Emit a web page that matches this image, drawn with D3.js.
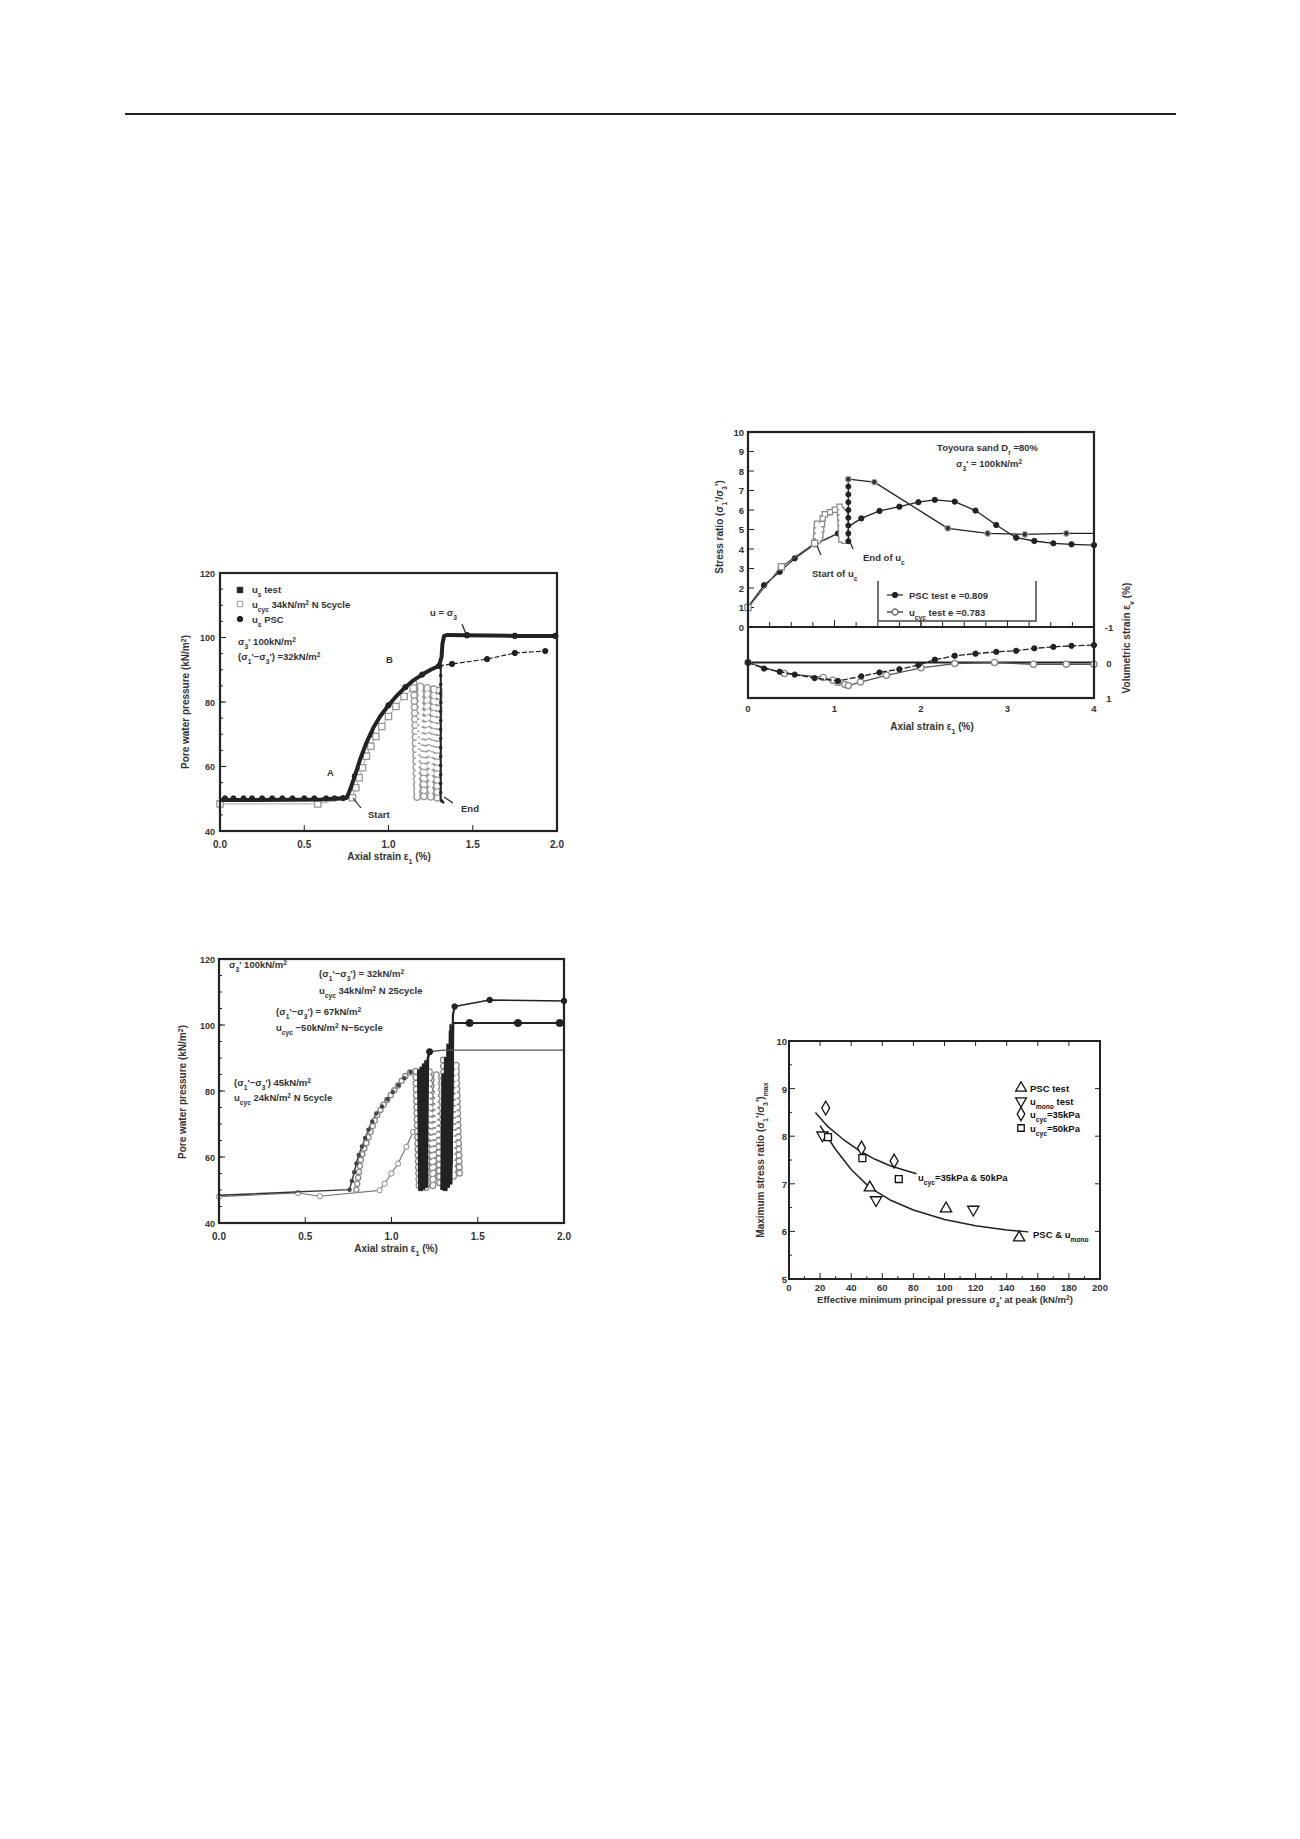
<!DOCTYPE html>
<html><head><meta charset="utf-8">
<script src="https://cdn.jsdelivr.net/npm/d3@7"></script>
<style>body{margin:0;background:#fff}text{font-family:"Liberation Sans",Arial,sans-serif}</style>
</head><body>
<svg id="page" width="1300" height="1839"></svg>
<script>
// ================= DATA =================
// Chart 1 (pore water pressure vs axial strain, one cyclic test)
const c1XTicks = [0, 0.5, 1, 1.5, 2];
const c1XLabels = ["0.0", "0.5", "1.0", "1.5", "2.0"];
const c1YTicks = [40, 60, 80, 100, 120];
const c1YLabels = ["40", "60", "80", "100", "120"];
const c1TestStrain = [0, 0.2, 0.4, 0.6, 0.75, 0.77, 0.80, 0.83, 0.87, 0.91, 0.95, 1.00, 1.05, 1.10, 1.15, 1.20, 1.25, 1.30, 1.315, 1.32, 1.33, 1.35, 1.466, 1.75, 2.0];
const c1TestU = [49.6, 49.6, 49.7, 49.8, 50.2, 52.5, 57, 62, 67.5, 72, 75.5, 79, 82, 84.6, 86.8, 88.5, 90, 91.2, 94, 98, 100.5, 100.8, 100.7, 100.5, 100.5];
const c1TestDotStrain = [1.466, 1.75, 1.99];
const c1TestDotU = [100.7, 100.5, 100.5];
const c1DropStrain = [1.31, 1.31, 1.33];
const c1DropU = [91, 49.6, 48.6];
const c1CycStrain = [0, 0.58, 0.786, 0.806, 0.826, 0.846, 0.869, 0.895, 0.925, 0.96, 1.0, 1.044, 1.093, 1.147];
const c1CycU = [48.4, 48.4, 50.3, 53.4, 56.5, 59.6, 63.2, 66.3, 69.3, 72.4, 75.5, 78.6, 81.7, 84.3];
const c1LoopStrain = [1.15, 1.17, 1.19, 1.21, 1.23, 1.25, 1.27, 1.29, 1.30];
const c1LoopU = [85.8, 50.0, 85.5, 49.8, 85.2, 49.8, 84.8, 50.2, 84.5];
const c1PscStrain = [0.03, 0.08, 0.14, 0.19, 0.25, 0.31, 0.37, 0.43, 0.50, 0.56, 0.63, 0.68, 0.73, 0.80, 0.90, 1.0, 1.1, 1.2, 1.3, 1.377, 1.585, 1.75, 1.93];
const c1PscU = [50.1, 50.1, 50.1, 50.1, 50.1, 50.1, 50.1, 50.1, 50.1, 50.1, 50.1, 50.1, 50.2, 57, 70, 79, 84.6, 88.5, 91.2, 91.8, 93.3, 95.2, 95.8];

// Chart 2 (three cyclic tests)
const c2XTicks = [0, 0.5, 1, 1.5, 2];
const c2XLabels = ["0.0", "0.5", "1.0", "1.5", "2.0"];
const c2YTicks = [40, 60, 80, 100, 120];
const c2YLabels = ["40", "60", "80", "100", "120"];
const c2AStrain = [0, 0.757, 0.777, 0.806, 0.835, 0.873, 0.912, 0.96, 1.009, 1.057, 1.105, 1.134];
const c2AU = [48.4, 50.1, 54, 60, 64.1, 69.2, 73.2, 76.3, 79.8, 82.8, 85.6, 86.4];
const c2BStrain = [0.796, 0.825, 0.87, 0.912, 0.95, 0.989, 1.04, 1.086, 1.13];
const c2BU = [50.1, 60, 66.5, 72.2, 75.5, 78.3, 81.8, 84.9, 86.4];
const c2CStrain = [0, 0.458, 0.584, 0.931, 0.96, 0.999, 1.038, 1.086, 1.125];
const c2CU = [48.0, 49.1, 48.1, 49.9, 51.9, 55, 58, 63.1, 67.6];
const c2G1Strain = [1.14, 1.16, 1.18, 1.20, 1.22, 1.24, 1.26, 1.28];
const c2G1U = [86, 50.5, 86.5, 50.3, 86, 50.5, 85.5, 51];
const c2G2Strain = [1.30, 1.32, 1.34, 1.36, 1.375, 1.395];
const c2G2U = [89.4, 53, 89, 53.5, 88.5, 54];
const c2K1Strain = [1.155, 1.162, 1.169, 1.176, 1.183, 1.19, 1.197, 1.204, 1.211, 1.221];
const c2K1U = [86.5, 50, 87, 50, 88, 50.5, 89, 51, 90, 91.9];
const c2K2Strain = [1.29, 1.297, 1.304, 1.311, 1.318, 1.325, 1.332, 1.339, 1.346, 1.357];
const c2K2U = [50, 85, 50, 90, 50, 94, 51, 98, 52, 100.6];
const c2K3Strain = [1.335, 1.342, 1.349, 1.356, 1.366];
const c2K3U = [55, 100, 58, 103, 105.6];
const c2P1Strain = [1.221, 1.30, 2.0];
const c2P1U = [91.9, 92.4, 92.4];
const c2P2Strain = [1.357, 1.453, 1.733, 1.975, 2.0];
const c2P2U = [100.6, 100.6, 100.6, 100.6, 100.6];
const c2P3Strain = [1.366, 1.569, 2.0];
const c2P3U = [105.6, 107.6, 107.3];

// Chart 3 (stress ratio and volumetric strain vs axial strain)
const c3XTicks = [0, 1, 2, 3, 4];
const c3SRTicks = [0, 1, 2, 3, 4, 5, 6, 7, 8, 9, 10];
const c3VTicks = [-1, 0, 1];
const c3PscStrain = [0, 0.185, 0.366, 0.54, 0.77, 1.04, 1.31, 1.52, 1.75, 1.97, 2.16, 2.39, 2.63, 2.87, 3.1, 3.31, 3.53, 3.74, 4.0];
const c3PscRatio = [1.03, 2.14, 2.83, 3.52, 4.24, 4.8, 5.57, 5.95, 6.17, 6.4, 6.52, 6.43, 5.97, 5.23, 4.58, 4.41, 4.29, 4.24, 4.2];
const c3PscVol = [0, 0.17, 0.26, 0.34, 0.44, 0.52, 0.39, 0.28, 0.19, 0.07, -0.08, -0.19, -0.25, -0.30, -0.33, -0.40, -0.44, -0.47, -0.49];
const c3CycStrain = [0, 0.385, 0.77, 0.78, 0.80, 0.81, 0.82, 0.83, 0.87, 0.98, 1.06, 1.08, 1.08, 1.10, 1.10, 1.12, 1.12, 1.14];
const c3CycRatio = [1.0, 3.09, 4.29, 4.2, 5.4, 4.4, 5.3, 4.5, 5.75, 5.95, 6.17, 4.4, 6.1, 4.35, 6.0, 4.3, 5.9, 4.3];
const c3PostStrain = [1.16, 1.16, 1.46, 2.31, 2.77, 3.2, 3.68, 4.0];
const c3PostRatio = [4.3, 7.58, 7.43, 5.06, 4.8, 4.75, 4.8, 4.8];
const c3PostMarkStrain = [1.16, 1.46, 2.31, 2.77, 3.2, 3.68];
const c3PostMarkRatio = [7.58, 7.43, 5.06, 4.8, 4.75, 4.8];
const c3EndColStrain = [1.16, 1.16, 1.16, 1.16, 1.16, 1.16, 1.16, 1.16, 1.16];
const c3EndColRatio = [4.4, 4.8, 5.2, 5.6, 6.0, 6.4, 6.8, 7.2, 7.58];
const c3CycVolStrain = [0, 0.42, 0.87, 0.98, 1.04, 1.12, 1.16, 1.3, 1.6, 2.0, 2.39, 2.85, 3.3, 3.68, 4.0];
const c3CycVol = [0, 0.31, 0.42, 0.50, 0.56, 0.62, 0.65, 0.55, 0.36, 0.15, 0.03, 0.0, 0.05, 0.05, 0.05];

// Chart 4 (maximum stress ratio vs sigma3' at peak)
const c4XTicks = [0, 20, 40, 60, 80, 100, 120, 140, 160, 180, 200];
const c4YTicks = [5, 6, 7, 8, 9, 10];
const c4PscX = [52, 101, 148];
const c4PscY = [6.92, 6.48, 5.87];
const c4MonoX = [21.5, 56, 118.5];
const c4MonoY = [8.02, 6.66, 6.46];
const c4C35X = [23.6, 46.6, 67.6];
const c4C35Y = [8.59, 7.75, 7.48];
const c4C50X = [25.1, 47.2, 70.6];
const c4C50Y = [7.98, 7.54, 7.10];
const c4UpperX = [17, 25, 35, 45, 55, 65, 75, 82];
const c4UpperY = [8.5, 8.2, 7.93, 7.7, 7.52, 7.38, 7.28, 7.21];
const c4LowerX = [20, 30, 40, 52, 65, 80, 100, 120, 140, 154];
const c4LowerY = [8.22, 7.72, 7.3, 6.92, 6.66, 6.45, 6.25, 6.12, 6.03, 5.99];

// ================= DRAWING =================
const svg = d3.select("#page");
const INK = "#222", TXT = "#333";

function addText(x, y, parts, o = {}) {
  const size = o.size || 10;
  const t = svg.append("text").attr("x", x).attr("y", y)
    .attr("font-size", size).attr("font-weight", o.weight || "bold")
    .attr("fill", o.fill || TXT).attr("text-anchor", o.anchor || "start");
  if (o.rotate !== undefined) t.attr("transform", `rotate(${o.rotate},${x},${y})`);
  (Array.isArray(parts) ? parts : [parts]).forEach(p => {
    if (typeof p === "string") t.append("tspan").text(p);
    else t.append("tspan").attr("baseline-shift", p.sup ? "super" : "sub")
      .attr("font-size", size * 0.7).text(p.t);
  });
  return t;
}
function drawLine(x, y, xs, ys, o = {}) {
  svg.append("path").attr("d", d3.line().x(d => x(d[0])).y(d => y(d[1]))(d3.zip(xs, ys)))
    .attr("fill", "none").attr("stroke", o.stroke || INK).attr("stroke-width", o.w || 1.5)
    .attr("stroke-dasharray", o.dash || null).attr("stroke-linejoin", "round");
}
function drawMarks(x, y, xs, ys, type, o = {}) {
  const sym = d3.symbol().type(type).size(o.size || 30);
  svg.append("g").selectAll("path").data(d3.zip(xs, ys)).join("path")
    .attr("transform", d => `translate(${x(d[0])},${y(d[1])})${o.flip ? " rotate(180)" : ""}`)
    .attr("d", sym).attr("fill", o.fill || INK).attr("stroke", o.stroke || INK)
    .attr("stroke-width", o.w || 1);
}
// chain of markers along a path (line style with zero-length dashes)
function beads(x, y, xs, ys, o = {}) {
  const d = d3.line().x(p => x(p[0])).y(p => y(p[1]))(d3.zip(xs, ys));
  const size = o.size || 7, gap = o.gap || 6, cap = o.cap || "round";
  svg.append("path").attr("d", d).attr("fill", "none").attr("stroke", o.color || "#999")
    .attr("stroke-width", size).attr("stroke-linecap", cap).attr("stroke-dasharray", `0 ${gap}`);
  if (o.hollow !== false)
    svg.append("path").attr("d", d).attr("fill", "none").attr("stroke", "#fff")
      .attr("stroke-width", size - 2.6).attr("stroke-linecap", cap).attr("stroke-dasharray", `0 ${gap}`);
}
function frame(x, y, w = 2) {
  const [x0, x1] = x.range(), [y1, y0] = y.range();
  svg.append("rect").attr("x", x0).attr("y", y0).attr("width", x1 - x0).attr("height", y1 - y0)
    .attr("fill", "none").attr("stroke", INK).attr("stroke-width", w);
}
function tickMarks(x, y, vals, side, len, w = 1) {
  const [x0, x1] = x.range(), [yb, yt] = y.range();
  vals.forEach(v => {
    let a;
    if (side === "bottom") a = [x(v), yb, x(v), yb - len];
    if (side === "top") a = [x(v), yt, x(v), yt + len];
    if (side === "left") a = [x0, y(v), x0 + len, y(v)];
    if (side === "right") a = [x1, y(v), x1 - len, y(v)];
    svg.append("line").attr("x1", a[0]).attr("y1", a[1]).attr("x2", a[2]).attr("y2", a[3])
      .attr("stroke", INK).attr("stroke-width", w);
  });
}
function seg(x1, y1, x2, y2, w = 1.2) {
  svg.append("line").attr("x1", x1).attr("y1", y1).attr("x2", x2).attr("y2", y2)
    .attr("stroke", INK).attr("stroke-width", w);
}

// page rule
seg(125, 114, 1176, 114, 2.2);

// ---------- Chart 1 ----------
{
  const x = d3.scaleLinear().domain([0, 2]).range([220, 557]);
  const y = d3.scaleLinear().domain([40, 120]).range([831, 573]);
  tickMarks(x, y, d3.range(45, 120, 5), "left", 3);
  tickMarks(x, y, c1YTicks, "left", 6);
  tickMarks(x, y, c1XTicks, "bottom", 6);
  c1XTicks.forEach((v, i) => addText(x(v), 848, c1XLabels[i], {anchor: "middle"}));
  c1YTicks.forEach((v, i) => addText(215, y(v) + 3.5, c1YLabels[i], {anchor: "end", size: 9}));
  addText(389, 860, ["Axial strain ε", {t: "1"}, " (%)"], {anchor: "middle"});
  addText(189, 702, ["Pore water pressure (kN/m", {t: "2", sup: true}, ")"], {anchor: "middle", rotate: -90});

  drawLine(x, y, c1PscStrain.slice(18), c1PscU.slice(18), {w: 1.2, dash: "5 2"});
  drawMarks(x, y, c1PscStrain, c1PscU, d3.symbolCircle, {size: 22});
  drawLine(x, y, c1CycStrain, c1CycU, {stroke: "#aaa", w: 1});
  beads(x, y, c1LoopStrain, c1LoopU, {color: "#9a9a9a", size: 7.5, gap: 6});
  drawMarks(x, y, c1CycStrain, c1CycU, d3.symbolSquare, {size: 40, fill: "#fff", stroke: "#999", w: 1.3});
  drawLine(x, y, c1TestStrain, c1TestU, {w: 4});
  drawLine(x, y, c1DropStrain, c1DropU, {w: 2});
  beads(x, y, c1DropStrain, c1DropU, {color: INK, size: 3.5, gap: 9, hollow: false});
  drawMarks(x, y, c1TestDotStrain, c1TestDotU, d3.symbolCircle, {size: 24});
  frame(x, y, 2.2);

  const I = d3.scaleLinear();
  drawMarks(I, I, [240], [590], d3.symbolSquare, {size: 30});
  drawMarks(I, I, [240], [604], d3.symbolSquare, {size: 30, fill: "#fff", stroke: "#999"});
  drawMarks(I, I, [240], [619], d3.symbolCircle, {size: 24});
  addText(252, 593, ["u", {t: "s"}, "    test"], {size: 9.5});
  addText(252, 608, ["u", {t: "cyc"}, "  34kN/m", {t: "2", sup: true}, "  N 5cycle"], {size: 9.5});
  addText(252, 623, ["u", {t: "s"}, "    PSC"], {size: 9.5});
  addText(238, 645, ["σ", {t: "3"}, "'   100kN/m", {t: "2", sup: true}], {size: 9.5});
  addText(238, 660, ["(σ", {t: "1"}, "'−σ", {t: "3"}, "')  =32kN/m", {t: "2", sup: true}], {size: 9.5});
  addText(327, 776, "A", {size: 9.5});
  addText(386, 663, "B", {size: 9.5});
  seg(353, 798, 361, 808); addText(368, 818, "Start", {size: 9.5});
  seg(444, 797, 453, 803); addText(461, 812, "End", {size: 9.5});
  addText(430, 616, ["u = σ", {t: "3"}], {size: 9.5}); seg(462, 624, 466, 634);
}

// ---------- Chart 2 ----------
{
  const x = d3.scaleLinear().domain([0, 2]).range([219, 564]);
  const y = d3.scaleLinear().domain([40, 120]).range([1223, 959]);
  tickMarks(x, y, d3.range(45, 120, 5), "left", 3);
  tickMarks(x, y, c2YTicks, "left", 6);
  tickMarks(x, y, c2XTicks, "bottom", 6);
  c2XTicks.forEach((v, i) => addText(x(v), 1240, c2XLabels[i], {anchor: "middle"}));
  c2YTicks.forEach((v, i) => addText(215, y(v) + 3.5, c2YLabels[i], {anchor: "end", size: 9}));
  addText(396, 1252, ["Axial strain ε", {t: "1"}, " (%)"], {anchor: "middle"});
  addText(186, 1092, ["Pore water pressure (kN/m", {t: "2", sup: true}, ")"], {anchor: "middle", rotate: -90});

  drawLine(x, y, c2CStrain, c2CU, {stroke: "#777", w: 1.2});
  drawMarks(x, y, c2CStrain, c2CU, d3.symbolCircle, {size: 22, fill: "#fff", stroke: "#888"});
  drawLine(x, y, c2AStrain, c2AU, {stroke: "#333", w: 1.4});
  drawLine(x, y, c2BStrain, c2BU, {stroke: "#888", w: 1.2});
  beads(x, y, c2BStrain, c2BU, {color: "#8a8a8a", size: 6.5, gap: 6});
  beads(x, y, c2AStrain.slice(1), c2AU.slice(1), {color: "#444", size: 4.5, gap: 9, hollow: false});
  beads(x, y, c2G1Strain, c2G1U, {color: "#8a8a8a", size: 7, gap: 6});
  beads(x, y, c2G2Strain, c2G2U, {color: "#8a8a8a", size: 7, gap: 6});
  drawLine(x, y, c2K1Strain, c2K1U, {w: 2.6});
  drawLine(x, y, c2K2Strain, c2K2U, {w: 2.6});
  drawLine(x, y, c2K3Strain, c2K3U, {w: 2.2});
  drawLine(x, y, c2P1Strain, c2P1U, {stroke: "#555", w: 1.4});
  drawLine(x, y, c2P2Strain, c2P2U, {w: 1.8});
  drawLine(x, y, c2P3Strain, c2P3U, {w: 1.5});
  drawMarks(x, y, [c2P1Strain[0]], [c2P1U[0]], d3.symbolCircle, {size: 30});
  drawMarks(x, y, c2P2Strain.slice(1, 4), c2P2U.slice(1, 4), d3.symbolCircle, {size: 40});
  drawMarks(x, y, c2P3Strain, c2P3U, d3.symbolCircle, {size: 24});
  frame(x, y, 2.2);

  addText(229, 968, ["σ", {t: "3"}, "'  100kN/m", {t: "2", sup: true}], {size: 9.5});
  addText(319, 977, ["(σ", {t: "1"}, "'−σ", {t: "3"}, "') = 32kN/m", {t: "2", sup: true}], {size: 9.5});
  addText(319, 994, ["u", {t: "cyc"}, "  34kN/m", {t: "2", sup: true}, "  N 25cycle"], {size: 9.5});
  addText(276, 1015, ["(σ", {t: "1"}, "'−σ", {t: "3"}, "') = 67kN/m", {t: "2", sup: true}], {size: 9.5});
  addText(276, 1031, ["u", {t: "cyc"}, "  −50kN/m", {t: "2", sup: true}, "  N−5cycle"], {size: 9.5});
  addText(234, 1086, ["(σ", {t: "1"}, "'−σ", {t: "3"}, "')  45kN/m", {t: "2", sup: true}], {size: 9.5});
  addText(234, 1101, ["u", {t: "cyc"}, "  24kN/m", {t: "2", sup: true}, "  N 5cycle"], {size: 9.5});
}

// ---------- Chart 3 ----------
{
  const x = d3.scaleLinear().domain([0, 4]).range([748, 1094]);
  const s = d3.scaleLinear().domain([0, 10]).range([627, 432]);
  const v = d3.scaleLinear().domain([-1, 1]).range([627, 698]);
  const yAll = d3.scaleLinear().domain([0, 1]).range([698, 432]);
  tickMarks(x, s, c3SRTicks, "left", 6);
  tickMarks(x, v, c3VTicks, "right", 6);
  tickMarks(x, v, d3.range(0.25, 4, 0.25), "bottom", 5);
  tickMarks(x, v, c3XTicks, "bottom", 7);
  c3SRTicks.forEach(t => addText(744, s(t) + 3.5, String(t), {anchor: "end", size: 9.5}));
  c3VTicks.forEach(t => addText(1109, v(t) + 4, String(t), {anchor: "middle", size: 9.5}));
  c3XTicks.forEach(t => addText(x(t), 712, String(t), {anchor: "middle", size: 9.5}));
  addText(932, 730, ["Axial strain ε", {t: "1"}, " (%)"], {anchor: "middle"});
  addText(723, 527, ["Stress ratio (σ", {t: "1"}, "'/σ", {t: "3"}, "')"], {anchor: "middle", rotate: -90});
  addText(1130, 638, ["Volumetric strain ε", {t: "v"}, " (%)"], {anchor: "middle", rotate: -90});

  seg(748, 627, 1094, 627, 2);
  seg(748, v(0), 1094, v(0), 2.2);

  drawLine(x, s, c3PscStrain, c3PscRatio, {w: 1.3});
  drawMarks(x, s, c3PscStrain, c3PscRatio, d3.symbolCircle, {size: 22});
  drawLine(x, s, c3CycStrain, c3CycRatio, {stroke: "#555", w: 1.2});
  beads(x, s, c3CycStrain.slice(2), c3CycRatio.slice(2), {color: "#8a8a8a", size: 6.5, gap: 5.5, cap: "square"});
  drawMarks(x, s, c3CycStrain.slice(0, 3), c3CycRatio.slice(0, 3), d3.symbolSquare, {size: 38, fill: "#fff", stroke: "#888", w: 1.3});
  drawLine(x, s, c3PostStrain, c3PostRatio, {w: 1.3});
  drawMarks(x, s, c3EndColStrain, c3EndColRatio, d3.symbolCircle, {size: 20});
  drawMarks(x, s, c3PostMarkStrain, c3PostMarkRatio, d3.symbolCircle, {size: 26, fill: "#333", stroke: "#aaa", w: 1.2});

  drawLine(x, v, c3CycVolStrain, c3CycVol, {stroke: "#555", w: 1.3});
  drawMarks(x, v, c3CycVolStrain, c3CycVol, d3.symbolCircle, {size: 30, fill: "#fff", stroke: "#888", w: 1.3});
  drawLine(x, v, c3PscStrain, c3PscVol, {w: 1.3, dash: "6 2"});
  drawMarks(x, v, c3PscStrain, c3PscVol, d3.symbolCircle, {size: 22});
  frame(x, yAll, 2.2);

  addText(1038, 451, ["Toyoura sand D", {t: "r"}, " =80%"], {anchor: "end", size: 9.5});
  addText(956, 467, ["σ", {t: "3"}, "' = 100kN/m", {t: "2", sup: true}], {size: 9.5});
  addText(863, 561, ["End of u", {t: "c"}], {size: 9.5});
  addText(812, 577, ["Start of u", {t: "c"}], {size: 9.5});
  seg(817, 546, 821, 555); seg(850, 542, 853, 549);
  svg.append("path").attr("d", "M878,581 V621 H1036 V581").attr("fill", "none").attr("stroke", "#444").attr("stroke-width", 1.5);
  const I = d3.scaleLinear();
  seg(887, 595, 903, 595, 1.2);
  drawMarks(I, I, [895], [595], d3.symbolCircle, {size: 22});
  addText(909, 599, "PSC test e =0.809", {size: 9.5});
  seg(887, 612, 903, 612, 1.2);
  drawMarks(I, I, [895], [612], d3.symbolCircle, {size: 28, fill: "#fff", stroke: "#666", w: 1.3});
  addText(909, 616, ["u", {t: "cyc"}, " test e =0.783"], {size: 9.5});
}

// ---------- Chart 4 ----------
{
  const x = d3.scaleLinear().domain([0, 200]).range([789, 1100]);
  const y = d3.scaleLinear().domain([5, 10]).range([1279, 1041]);
  tickMarks(x, y, d3.range(10, 200, 20), "bottom", 3);
  tickMarks(x, y, c4XTicks, "bottom", 6);
  tickMarks(x, y, c4XTicks, "top", 5);
  tickMarks(x, y, d3.range(5.5, 10, 1), "left", 3);
  tickMarks(x, y, c4YTicks, "left", 6);
  tickMarks(x, y, c4YTicks, "right", 5);
  c4XTicks.forEach(t => addText(x(t), 1291, String(t), {anchor: "middle", size: 9.5}));
  c4YTicks.forEach(t => addText(787, y(t) + 4, String(t), {anchor: "end", size: 9.5}));
  addText(945, 1303, ["Effective minimum principal pressure σ", {t: "3"}, "' at peak (kN/m", {t: "2", sup: true}, ")"], {anchor: "middle", size: 9.5});
  addText(764, 1160, ["Maximum stress ratio (σ", {t: "1"}, "'/σ", {t: "3"}, "')", {t: "max"}], {anchor: "middle", size: 10, rotate: -90});

  drawLine(x, y, c4UpperX, c4UpperY, {w: 1.5});
  drawLine(x, y, c4LowerX, c4LowerY, {w: 1.5});
  const hollow = {fill: "#fff", stroke: "#111", w: 1.3};
  drawMarks(x, y, c4PscX, c4PscY, d3.symbolTriangle, {size: 55, ...hollow});
  drawMarks(x, y, c4MonoX, c4MonoY, d3.symbolTriangle, {size: 55, flip: true, ...hollow});
  drawMarks(x, y, c4C35X, c4C35Y, d3.symbolDiamond, {size: 55, ...hollow});
  drawMarks(x, y, c4C50X, c4C50Y, d3.symbolSquare, {size: 48, ...hollow});
  frame(x, y, 2);

  const I = d3.scaleLinear();
  drawMarks(I, I, [1021], [1088], d3.symbolTriangle, {size: 50, ...hollow});
  drawMarks(I, I, [1021], [1101], d3.symbolTriangle, {size: 50, flip: true, ...hollow});
  drawMarks(I, I, [1021], [1114], d3.symbolDiamond, {size: 50, ...hollow});
  drawMarks(I, I, [1021], [1128], d3.symbolSquare, {size: 42, ...hollow});
  addText(1030, 1092, "PSC test", {size: 9.5, fill: "#111"});
  addText(1030, 1105, ["u", {t: "mono"}, " test"], {size: 9.5, fill: "#111"});
  addText(1030, 1118, ["u", {t: "cyc"}, "=35kPa"], {size: 9.5, fill: "#111"});
  addText(1030, 1132, ["u", {t: "cyc"}, "=50kPa"], {size: 9.5, fill: "#111"});
  addText(918, 1181, ["u", {t: "cyc"}, "=35kPa & 50kPa"], {size: 9.5, fill: "#111"});
  addText(1033, 1238, ["PSC & u", {t: "mono"}], {size: 9.5, fill: "#111"});
}
</script>
</body></html>
